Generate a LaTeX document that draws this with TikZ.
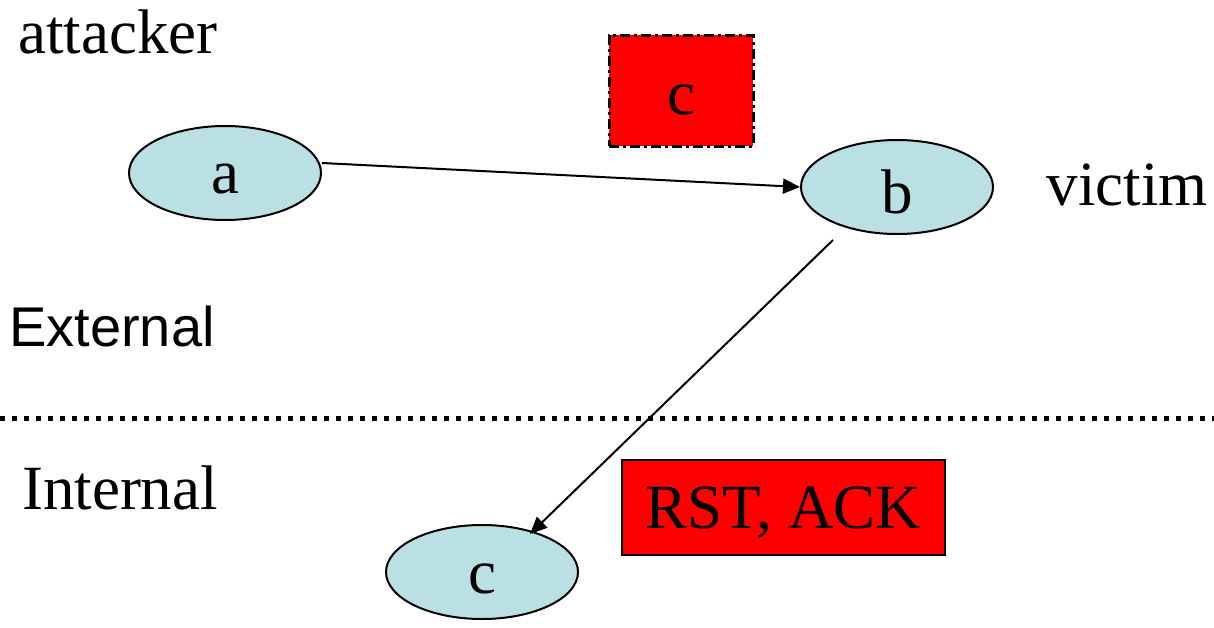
\documentclass[tikz,border=0pt]{standalone}
\usepackage{fontspec}
\setmainfont{Liberation Serif}
\newfontfamily\arialfont{Liberation Sans}
\usetikzlibrary{arrows.meta,shapes.geometric}
\definecolor{hostblue}{RGB}{187,224,227}
% lower a text inside its node while keeping the box's natural size
\newcommand{\lowered}[2]{\raisebox{-#1}[\height][\depth]{#2}}
\tikzset{
  host/.style={ellipse, draw=black, line width=2pt, fill=hostblue,
    minimum width=192pt, minimum height=94pt, inner sep=0pt,
    font=\fontsize{63}{70}\selectfont},
  label/.style={inner sep=0pt, font=\fontsize{63}{70}\selectfont},
  flow/.style={line width=2pt, -{Triangle[length=17pt,width=15pt]}},
  packet/.style={draw=black, fill=red, inner sep=0pt,
    font=\fontsize{63}{70}\selectfont}
}
\begin{document}
\begin{tikzpicture}[x=1pt,y=-1pt]
  \useasboundingbox (0,0) rectangle (1214,627);
  % hosts
  \node[host] (a) at (225,173) {\lowered{6pt}{a}};
  \node[host] (b) at (897,187) {\lowered{5pt}{b}};
  \node[host] (c) at (482,572) {\lowered{7pt}{c}};
  % role labels
  \node[label] (attacker) at (118,32) {attacker};
  \node[label] (victim) at (1127,185) {victim};
  \node[label, font=\arialfont\fontsize{56}{64}\selectfont] (external) at (112,326) {External};
  \node[label] (internal) at (120,488) {Internal};
  % spoofed source and reply packets
  \node[packet, line width=3pt, dash pattern=on 10pt off 4pt on 3pt off 4pt,
    minimum width=144pt, minimum height=111pt] (cbox) at (681,90.5) {\lowered{9pt}{c}};
  \node[packet, line width=2pt, minimum width=323pt, minimum height=95pt] (rst) at (783.5,507.5) {\lowered{5pt}{RST, ACK}};
  % boundary between external and internal networks
  \coordinate (lineL) at (0,418);
  \coordinate (lineR) at (1214,418);
  \draw[line width=5pt, dash pattern=on 5pt off 7pt] (lineL) -- (lineR);
  % packet flows
  \draw[flow] (a.east) ++(0,-10) coordinate (aout) -- (b.west);
  \draw[flow] ([xshift=-64pt,yshift=-5pt]b.south) -- ([xshift=48pt,yshift=-10pt]c.north);
\end{tikzpicture}
\end{document}
